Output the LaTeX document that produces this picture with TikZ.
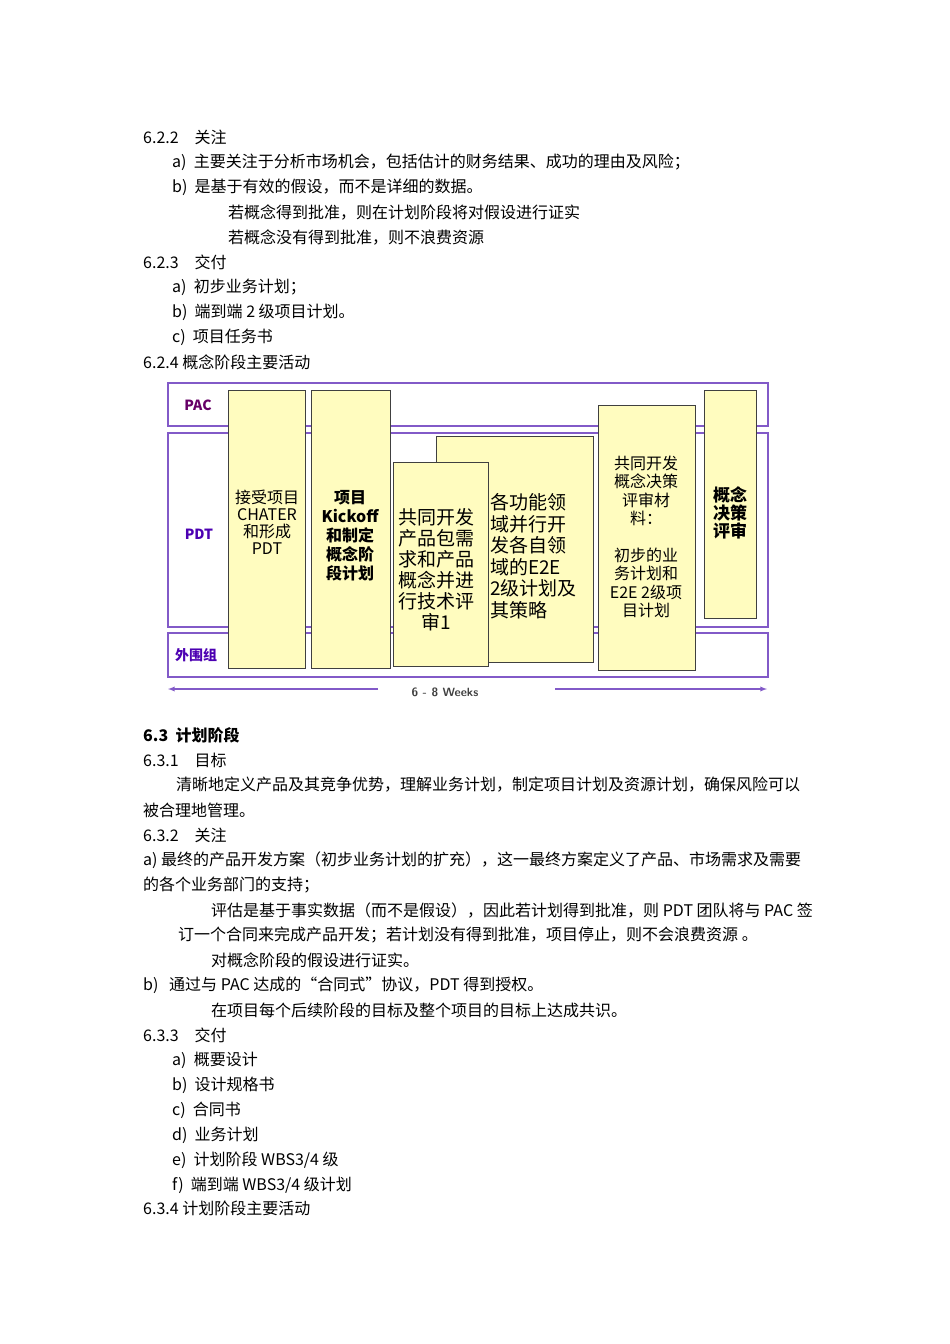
\documentclass[tikz,border=0pt]{standalone}
\usepackage{fontspec}
\setmainfont{Liberation Serif}
\newfontfamily\cjk{Noto Sans CJK SC}
\definecolor{bandc}{RGB}{130,90,200}
\begin{document}
\begin{tikzpicture}[x=1pt,y=-1pt,
  tl/.style={anchor=west,inner sep=0pt,font=\cjk\fontsize{16}{18}\selectfont},
  band/.style={draw=bandc,line width=1.3pt},
  act/.style={draw=black!75,fill=yellow!25,line width=0.9pt},
  bt/.style={align=center,inner sep=0pt,font=\cjk\fontsize{15}{17}\selectfont},
  lab/.style={inner sep=0pt,font=\cjk\bfseries\fontsize{14}{16}\selectfont}]
\useasboundingbox (0,0) rectangle (950,1344);
\foreach \y/\x/\t in {137/143/{6.2.2　关注},162/172/{a)\ \ 主要关注于分析市场机会，包括估计的财务结果、成功的理由及风险；},187/172/{b)\ \ 是基于有效的假设，而不是详细的数据。},212/228/{若概念得到批准，则在计划阶段将对假设进行证实},237/228/{若概念没有得到批准，则不浪费资源},262/143/{6.2.3　交付},287/172/{a)\ \ 初步业务计划；},312/172/{b)\ \ 端到端 2 级项目计划。},337/172/{c)\ \ 项目任务书},362/143/{6.2.4 概念阶段主要活动},760/143/{6.3.1　目标},785/176/{清晰地定义产品及其竞争优势，理解业务计划，制定项目计划及资源计划，确保风险可以},810/143/{被合理地管理。},835/143/{6.3.2　关注},860/143/{a) 最终的产品开发方案（初步业务计划的扩充），这一最终方案定义了产品、市场需求及需要},885/143/{的各个业务部门的支持；},910/211/{评估是基于事实数据（而不是假设），因此若计划得到批准，则 PDT 团队将与 PAC 签},935/178/{订一个合同来完成产品开发；若计划没有得到批准，项目停止，则不会浪费资源 。},960/211/{对概念阶段的假设进行证实。},985/143/{b)\ \ \ 通过与 PAC 达成的“合同式”协议，PDT 得到授权。},1010/211/{在项目每个后续阶段的目标及整个项目的目标上达成共识。},1035/143/{6.3.3　交付},1060/172/{a)\ \ 概要设计},1085/172/{b)\ \ 设计规格书},1110/172/{c)\ \ 合同书},1135/172/{d)\ \ 业务计划},1160/172/{e)\ \ 计划阶段 WBS3/4 级},1185/172/{f)\ \ 端到端 WBS3/4 级计划},1208/143/{6.3.4 计划阶段主要活动}}
  \node[tl] at (\x,\y) {\t};
\node[tl,font=\cjk\bfseries\fontsize{16}{18}\selectfont] (h63) at (143,735) {6.3\ \ 计划阶段};
% bands
\draw[band] (168,383) rectangle (768,426);
\draw[band] (168,433) rectangle (768,627);
\draw[band] (168,633) rectangle (768,677);
\node[lab,text=violet!80!black] (pac) at (198,405) {PAC};
\node[lab,text=violet!60!blue] (pdt) at (199,534) {PDT};
\node[lab,text=violet!60!blue] (wwz) at (196,655) {外围组};
% boxes
\draw[act] (228,390) rectangle (305,668);
\draw[act] (311,390) rectangle (390,668);
\draw[act] (436,436) rectangle (593,662);
\draw[act] (393,462) rectangle (488,666);
\draw[act] (598,405) rectangle (695,670);
\draw[act] (704,390) rectangle (756,618);
\node[bt,font=\cjk\fontsize{16}{17}\selectfont] (b1) at (267,522) {接受项目\\CHATER\\和形成\\PDT};
\node[bt,font=\cjk\bfseries\fontsize{16}{19}\selectfont] (b2) at (350,536) {项目\\Kickoff\\和制定\\概念阶\\段计划};
\node[bt,font=\cjk\fontsize{19}{21}\selectfont] (b3) at (436,570) {共同开发\\产品包需\\求和产品\\概念并进\\行技术评\\审1};
\node[bt,align=left,anchor=west,font=\cjk\fontsize{19}{21.5}\selectfont] (b4) at (490,556) {各功能领\\域并行开\\发各自领\\域的E2E\\2级计划及\\其策略};
\node[bt,font=\cjk\fontsize{16}{18.5}\selectfont] (b5) at (646,537) {共同开发\\概念决策\\评审材\\料：\\[18pt]初步的业\\务计划和\\E2E 2级项\\目计划};
\node[bt,font=\cjk\bfseries\fontsize{17}{18}\selectfont] (b6) at (730,513) {概念\\决策\\评审};
% weeks arrow
\node[inner sep=0pt,font=\sffamily\bfseries\fontsize{12}{14}\selectfont,text=black!75] (wk) at (445,692) {6 - 8 Weeks};
\coordinate (la) at (168,689); \coordinate (lb) at (378,689);
\coordinate (ra) at (555,689); \coordinate (rb) at (767,689);
\draw[bandc,line width=1.3pt,-latex] (lb) -- (la);
\draw[bandc,line width=1.3pt,-latex] (ra) -- (rb);
\end{tikzpicture}
\end{document}
